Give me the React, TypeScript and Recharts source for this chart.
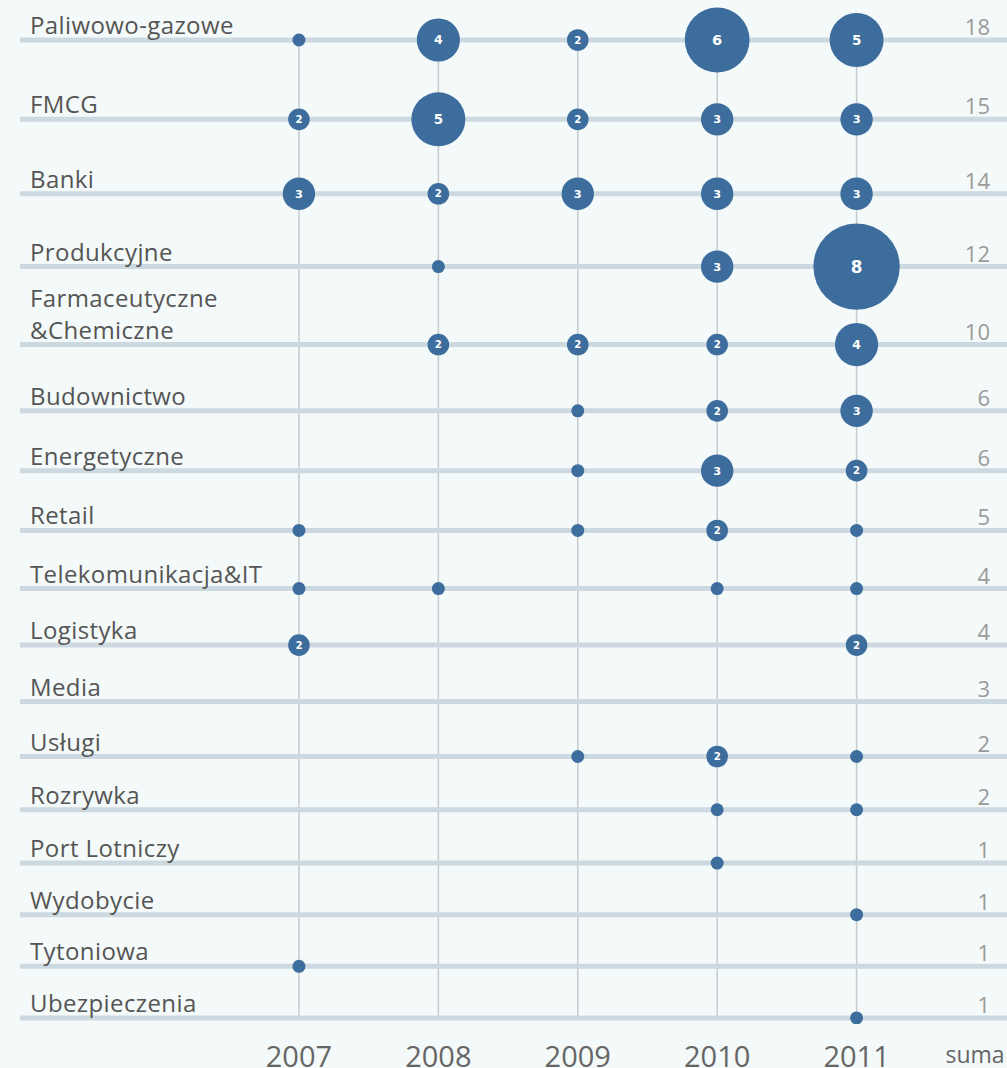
import React from 'react';
import { ComposedChart, Scatter, XAxis, YAxis, ReferenceLine } from 'recharts';

const years = [2007, 2008, 2009, 2010, 2011];

const sectors = [
  'Paliwowo-gazowe',
  'FMCG',
  'Banki',
  'Produkcyjne',
  'Farmaceutyczne\n&Chemiczne',
  'Budownictwo',
  'Energetyczne',
  'Retail',
  'Telekomunikacja&IT',
  'Logistyka',
  'Media',
  'Usługi',
  'Rozrywka',
  'Port Lotniczy',
  'Wydobycie',
  'Tytoniowa',
  'Ubezpieczenia',
];

// counts per year 2007..2011 (0 = no bubble)
const counts = [
  [1, 4, 2, 6, 5],
  [2, 5, 2, 3, 3],
  [3, 2, 3, 3, 3],
  [0, 1, 0, 3, 8],
  [0, 2, 2, 2, 4],
  [0, 0, 1, 2, 3],
  [0, 0, 1, 3, 2],
  [1, 0, 1, 2, 1],
  [1, 1, 0, 1, 1],
  [2, 0, 0, 0, 2],
  [0, 0, 0, 0, 0],
  [0, 0, 1, 2, 1],
  [0, 0, 0, 1, 1],
  [0, 0, 0, 1, 0],
  [0, 0, 0, 0, 1],
  [1, 0, 0, 0, 0],
  [0, 0, 0, 0, 1],
];

const sums = [18, 15, 14, 12, 10, 6, 6, 5, 4, 4, 3, 2, 2, 1, 1, 1, 1];

const SUM_X = 2011.957;
const BLUE = '#3c6d9d';
const FONT = '"Open Sans", "Noto Sans", sans-serif';

// rows with a bigger total get more room, two-line labels get a bit extra
const rowPos: number[] = [];
sectors.forEach((s, i) => {
  if (i === 0) {
    rowPos.push(0);
    return;
  }
  const extra = s.split('\n').length - 1;
  rowPos.push(rowPos[i - 1] + 50 + 1.63 * sums[i - 1] + 8.4 * extra);
});
const firstPos = rowPos[0];
const lastPos = rowPos[rowPos.length - 1];

const bubbles = sectors.flatMap((_, i) =>
  years
    .map((yr, j) => ({ x: yr, y: rowPos[i], v: counts[i][j] }))
    .filter((d) => d.v > 0)
);

const sumPoints = sectors.map((_, i) => ({ x: SUM_X, y: rowPos[i], s: sums[i] }));

const Bubble = (props: any) => {
  const { cx, cy, payload } = props;
  const v = payload.v;
  const r = Math.max(6.5, 5.4 * v);
  return (
    <g>
      <circle cx={cx} cy={cy} r={r} fill={BLUE} />
      {v > 1 && (
        <text
          x={cx}
          y={cy}
          dy="0.36em"
          textAnchor="middle"
          fill="#fff"
          fontWeight="bold"
          fontFamily='"DejaVu Sans", Verdana, sans-serif'
          fontSize={8 + v * 1.1}
        >
          {v}
        </text>
      )}
    </g>
  );
};

const SumLabel = (props: any) => {
  const { cx, cy, payload } = props;
  return (
    <text x={cx} y={cy - 5} textAnchor="end" fill="#9a9a9a" fontSize={22} fontFamily={FONT}>
      {payload.s}
    </text>
  );
};

const YearTick = (props: any) => {
  const { x, y, payload } = props;
  const isSum = payload.value === SUM_X;
  return (
    <text
      x={isSum ? x - 15 : x}
      y={y}
      dy={isSum ? 31 : 35}
      textAnchor="middle"
      fill="#666"
      fontSize={isSum ? 23 : 29}
      fontFamily={FONT}
    >
      {isSum ? 'suma' : payload.value}
    </text>
  );
};

const rowLabel = (text: string) => (p: any) => {
  const vb = p.viewBox || {};
  const lines = text.split('\n');
  const x = vb.x + 10;
  const base = vb.y - 6 - (lines.length - 1) * 32;
  return (
    <text x={x} y={base} fill="#555" fontSize={24} letterSpacing={0.4} fontFamily={FONT}>
      {lines.map((l, k) => (
        <tspan key={k} x={x} dy={k === 0 ? 0 : 32}>
          {l}
        </tspan>
      ))}
    </text>
  );
};

export default function App() {
  return (
    <div style={{ position: 'absolute', left: 0, top: 0, width: 1007, height: 1068, background: '#f4f9f9', overflow: 'hidden' }}>
      <ComposedChart width={1007} height={1068} margin={{ top: 0, right: 0, left: 20, bottom: 0 }}>
        <XAxis
          type="number"
          dataKey="x"
          domain={[2004.999, 2012.079]}
          allowDataOverflow
          ticks={[...years, SUM_X]}
          interval={0}
          height={44}
          axisLine={false}
          tickLine={false}
          tick={<YearTick />}
        />
        <YAxis type="number" dataKey="y" domain={[-40, 984]} reversed hide allowDataOverflow />
        {years.map((yr) => (
          <ReferenceLine
            key={yr}
            segment={[{ x: yr, y: firstPos }, { x: yr, y: lastPos }]}
            stroke="#c6cbce"
            strokeWidth={1.5}
          />
        ))}
        {sectors.map((s, i) => (
          <ReferenceLine key={s} y={rowPos[i]} stroke="#cdd9e0" strokeWidth={5} label={rowLabel(s)} />
        ))}
        <Scatter data={bubbles} shape={<Bubble />} isAnimationActive={false} />
        <Scatter data={sumPoints} shape={<SumLabel />} isAnimationActive={false} />
      </ComposedChart>
    </div>
  );
}
